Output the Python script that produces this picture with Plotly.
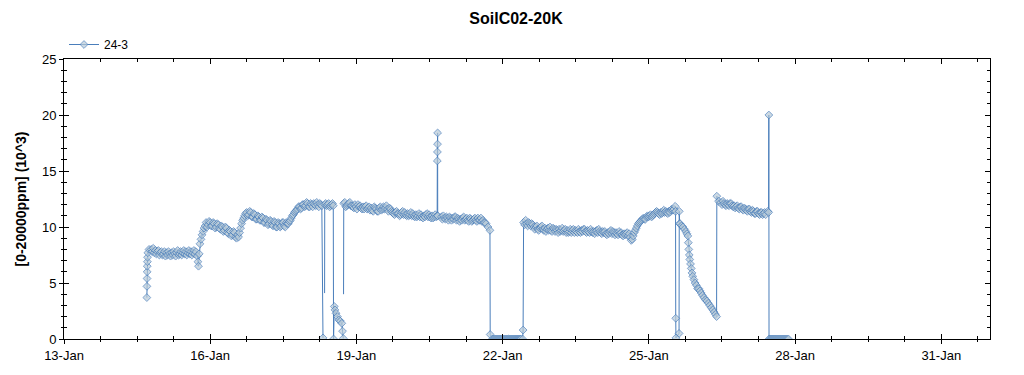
import datetime as dt
import plotly.graph_objects as go

# ---------------- text ----------------
title_text = "SoilC02-20K"
series_name = "24-3"
y_title = "[0-20000ppm] (10^3)"

# ---------------- data (day of January, value in 10^3 ppm) ----------------
STEP = 0.5 / 24.0   # regular logging interval of the plotted runs (days)

# start of record: fast rise
start_day = [14.700, 14.702, 14.704, 14.706, 14.708, 14.711, 14.714, 14.720, 14.745]
start_val = [3.7, 4.7, 5.4, 6.0, 6.5, 6.9, 7.3, 7.7, 8.0]

run1_start = 14.79
run1_val = [8.0, 7.8, 8.1, 7.7, 7.9, 7.6, 7.8, 7.9, 7.5, 7.7,
            7.8, 7.5, 7.6, 7.8, 7.4, 7.7, 7.5, 7.8, 7.6, 7.4,
            7.7, 7.5, 7.8, 7.6, 7.4, 7.7, 7.9, 7.5, 7.6, 7.8,
            7.5, 7.7, 7.9, 7.6, 7.8, 7.5, 7.7, 7.9, 7.6, 7.8,
            7.5, 7.7, 7.9, 7.6, 7.8]

dip1_day = [15.735, 15.748, 15.760, 15.775]
dip1_val = [7.4, 6.9, 6.5, 7.6]

run2_start = 15.79
run2_val = [8.5, 8.9, 9.3, 9.6, 9.9, 10.1, 10.4, 10.0, 10.2, 10.5,
            10.4, 10.1, 10.1, 10.4, 10.3, 9.9, 10.0, 10.3, 10.2, 9.9,
            9.8, 10.1, 10.0, 9.6, 9.7, 10.0, 9.9, 9.5, 9.4, 9.7,
            9.6, 9.2, 9.3, 9.6, 9.5, 9.1, 9.0, 9.3, 9.1, 9.5,
            9.9, 10.3, 10.6, 10.8, 11.0, 11.2, 11.3, 11.0, 11.1, 11.4,
            11.3, 10.9, 10.9, 11.2, 11.1, 10.7, 10.7, 11.0, 10.9, 10.6,
            10.6, 10.9, 10.8, 10.4, 10.4, 10.7, 10.6, 10.2, 10.3, 10.6,
            10.5, 10.2, 10.1, 10.5, 10.4, 10.0, 10.0, 10.4, 10.3, 10.0,
            10.1, 10.4, 10.4, 10.1, 10.0, 10.4, 10.3, 10.3, 10.5, 10.6,
            10.8, 11.0, 11.1, 11.3, 11.4, 11.5, 11.6, 11.8, 11.8, 11.6,
            11.7, 12.0, 12.0, 11.8, 11.9, 12.2, 12.1, 11.8, 11.8, 12.1,
            12.0, 11.8, 12.1, 12.0, 11.9, 12.2, 12.0, 11.8, 12.1, 12.0,
            11.9]

# dropouts on 18-Jan (None = no reading)
drop1_day = [18.314, 18.330, 18.347,
             18.350, 18.370, 18.390, 18.410, 18.430, 18.450, 18.470, 18.490,
             18.510, 18.525,
             18.531, 18.546, 18.560, 18.580, 18.610, 18.640, 18.670, 18.700,
             18.715, 18.730, 18.733, 18.736]
drop1_val = [0.1, None, 4.1,
             12.0, 12.1, 11.9, 12.0, 12.1, 11.8, 11.9, 12.0,
             12.1, 11.9,
             0.0, 2.9, 2.6, 2.3, 2.0, 1.7, 1.6, 1.4,
             0.7, 0.05, None, 4.0]
nomarker_day = [18.347, 18.736]

run3_start = 18.74
run3_val = [12.1, 12.2, 11.8, 11.9, 12.0, 12.1, 12.2, 11.9, 11.9, 11.8,
            11.7, 12.0, 11.8, 11.6, 12.0, 11.8, 11.9, 11.7, 11.6, 11.8,
            11.6, 11.8, 11.9, 11.6, 11.7, 11.8, 11.5, 11.7, 11.5, 11.4,
            11.8, 11.7, 11.6, 11.4, 11.4, 11.7, 11.8, 11.5, 11.6, 11.8,
            11.6, 11.7, 11.9, 11.6, 11.4, 11.7, 11.6, 11.4, 11.3, 11.2,
            11.1, 11.3, 11.4, 11.2, 11.2, 11.0, 11.1, 11.3, 11.4, 11.1,
            11.3, 11.1, 11.0, 11.2, 11.0, 11.1, 11.3, 11.0, 11.2, 11.0,
            10.9, 11.1, 10.9, 11.0, 11.2, 10.9, 11.1, 10.9, 10.8, 11.0,
            10.9, 11.1, 11.2, 10.9, 11.1, 10.9, 10.8, 11.0, 10.8, 10.9,
            11.1, 10.9, 11.0]

spike1_day = [20.660, 20.662, 20.664, 20.666, 20.668]
spike1_val = [15.9, 16.7, 17.4, 18.4, 11.0]

run4_start = 20.742
run4_val = [10.9, 10.7, 11.0, 10.8, 10.7, 10.9, 10.8, 10.6, 10.9, 10.8,
            10.6, 10.8, 10.7, 10.9, 10.9, 10.6, 10.8, 10.7, 10.5, 10.7,
            10.6, 10.8, 10.9, 10.6, 10.7, 10.8, 10.6, 10.5, 10.8, 10.7,
            10.5, 10.6, 10.7, 10.8, 10.6, 10.5, 10.8, 10.6, 10.6, 10.8,
            10.5, 10.6, 10.4, 10.4, 10.3]

fall1_day = [21.70, 21.74, 21.745]
fall1_val = [10.0, 9.7, 0.4]

zero1_start = 21.79
zero1_val = [0.0, 0.0, 0.0, 0.0, 0.0, 0.0, 0.0, 0.0, 0.0, 0.0,
             0.0, 0.0, 0.0, 0.0, 0.0, 0.0, 0.0, 0.0, 0.0, 0.0,
             0.0, 0.0, 0.0, 0.0, 0.0, 0.0, 0.0, 0.0, 0.0]

back1_day = [22.41, 22.42]
back1_val = [0.0, 0.8]

run5_start = 22.43
run5_val = [10.4, 10.2, 10.6, 10.3, 10.1, 10.4, 10.3, 10.1, 10.3, 10.2,
            10.0, 9.8, 10.0, 10.1, 9.8, 9.7, 9.9, 10.0, 10.1, 9.8,
            9.7, 9.9, 9.6, 9.8, 9.9, 9.7, 10.0, 9.7, 9.6, 9.9,
            9.8, 9.6, 9.8, 9.7, 9.5, 9.8, 9.6, 9.7, 9.9, 9.6,
            9.7, 9.8, 9.5, 9.7, 9.5, 9.6, 9.8, 9.5, 9.7, 9.8,
            9.5, 9.7, 9.6, 9.5, 9.8, 9.6, 9.5, 9.7, 9.6, 9.8,
            9.8, 9.6, 9.5, 9.7, 9.6, 9.5, 9.8, 9.6, 9.5, 9.6,
            9.4, 9.6, 9.7, 9.5, 9.8, 9.6, 9.5, 9.4, 9.6, 9.5,
            9.6, 9.4, 9.3, 9.5, 9.4, 9.6, 9.7, 9.4, 9.6, 9.5,
            9.3, 9.5, 9.4, 9.3, 9.6, 9.4, 9.5, 9.3, 9.2, 9.4,
            9.3, 9.4, 9.5, 9.2, 9.4, 9.1, 8.8, 8.9, 9.2, 9.5,
            9.7, 9.9, 10.1, 10.3, 10.4, 10.5, 10.6, 10.7, 10.8, 10.7,
            10.7, 10.9, 11.0, 10.9, 11.0, 11.1, 10.9, 11.0, 11.1, 11.2,
            11.3, 11.4, 11.3, 11.2, 11.1, 11.3, 11.2, 11.3, 11.5, 11.3,
            11.4, 11.3, 11.2, 11.4, 11.3, 11.5, 11.6, 11.5, 11.6]

drop2_day = [25.540, 25.548, 25.552, 25.556, 25.620, 25.624, 25.630]
drop2_val = [11.85, 11.4, 1.85, 0.1, 0.5, 11.4, 10.3]

fall2_day = [25.64, 25.67, 25.70, 25.73, 25.76, 25.78, 25.80, 25.81, 25.82, 25.83,
             25.84, 25.855, 25.87, 25.885, 25.90, 25.925, 25.95, 25.975, 26.00, 26.025,
             26.05, 26.075, 26.10, 26.13, 26.16, 26.19, 26.22, 26.25, 26.28, 26.31,
             26.34, 26.365, 26.39]
fall2_val = [10.3, 10.1, 10.0, 9.8, 9.6, 9.4, 9.2, 8.6, 8.0, 7.5,
             7.1, 6.7, 6.3, 5.9, 5.6, 5.3, 5.0, 4.8, 4.5, 4.5,
             4.3, 4.1, 3.9, 3.7, 3.5, 3.4, 3.2, 3.0, 2.8, 2.6,
             2.4, 2.2, 2.0]

jump_day = [26.395, 26.43]
jump_val = [12.75, 12.3]

run6_start = 26.48
run6_val = [12.2, 12.0, 12.3, 12.1, 12.0, 11.9, 12.1, 12.0, 11.9, 12.1,
            12.1, 11.9, 11.8, 11.9, 11.7, 11.8, 11.9, 11.7, 11.6, 11.8,
            11.8, 11.6, 11.5, 11.7, 11.6, 11.5, 11.4, 11.6, 11.6, 11.4,
            11.3, 11.5, 11.4, 11.2, 11.2, 11.4, 11.4, 11.2, 11.1, 11.3,
            11.3, 11.1, 11.2, 11.3, 11.1]

spike2_day = [27.44, 27.458, 27.462, 27.466]
spike2_val = [11.4, 11.3, 20.0, 0.0]

zero2_start = 27.49
zero2_val = [0.0, 0.0, 0.0, 0.0, 0.0, 0.0, 0.0, 0.0, 0.0, 0.0,
             0.0, 0.0, 0.0, 0.0, 0.0, 0.0, 0.0, 0.0, 0.0]


def run_days(start, vals):
    return [start + i * STEP for i in range(len(vals))]


pieces = [
    (start_day, start_val),
    (run_days(run1_start, run1_val), run1_val),
    (dip1_day, dip1_val),
    (run_days(run2_start, run2_val), run2_val),
    (drop1_day, drop1_val),
    (run_days(run3_start, run3_val), run3_val),
    (spike1_day, spike1_val),
    (run_days(run4_start, run4_val), run4_val),
    (fall1_day, fall1_val),
    (run_days(zero1_start, zero1_val), zero1_val),
    (back1_day, back1_val),
    (run_days(run5_start, run5_val), run5_val),
    (drop2_day, drop2_val),
    (fall2_day, fall2_val),
    (jump_day, jump_val),
    (run_days(run6_start, run6_val), run6_val),
    (spike2_day, spike2_val),
    (run_days(zero2_start, zero2_val), zero2_val),
]

days, vals = [], []
for d, v in pieces:
    assert len(d) == len(v), (len(d), len(v))
    days += list(d)
    vals += list(v)

base = dt.datetime(2024, 1, 1)
times = [base + dt.timedelta(days=d - 1) for d in days]
sizes = [0 if any(abs(d - n) < 1e-6 for n in nomarker_day) else 6 for d in days]

LINE = "#4A7EBB"
FILL = "#B7CAD8"
FONT = "Liberation Sans, Arial, sans-serif"

x_range = ["2024-01-13", "2024-02-01"]
DAY_MS = 86400000

fig = go.Figure()
fig.add_trace(go.Scatter(
    x=times, y=vals, name=series_name, mode="lines+markers",
    line=dict(color=LINE, width=1),
    marker=dict(symbol="diamond", size=sizes, color=FILL,
                line=dict(color=LINE, width=1)),
    connectgaps=False, cliponaxis=True,
))
# carrier for the inside-tick overlay axes (draws nothing)
fig.add_trace(go.Scatter(x=times, y=vals, mode="none", showlegend=False,
                         hoverinfo="skip", xaxis="x2", yaxis="y2"))

W, H = 1016, 367
fig.update_layout(
    width=W, height=H,
    margin=dict(l=53, r=34, t=51, b=36),
    paper_bgcolor="white", plot_bgcolor="white",
    font=dict(family=FONT, size=13, color="black"),
    title=dict(text="<b>" + title_text + "</b>", x=0.5, xanchor="center",
               y=1 - 10 / H, yanchor="middle", font=dict(size=16, family=FONT)),
    showlegend=True,
    legend=dict(x=0.0, y=1.0, xanchor="left", yanchor="bottom",
                font=dict(size=12, family=FONT), bgcolor="rgba(0,0,0,0)"),
    xaxis=dict(
        type="date", range=x_range, tick0="2024-01-13", dtick=3 * DAY_MS,
        tickformat="%-d-%b", showgrid=False, zeroline=False,
        showline=True, linecolor="black", linewidth=1, mirror=True,
        ticks="outside", ticklen=4, tickcolor="black",
        tickfont=dict(size=13),
        minor=dict(ticks="outside", ticklen=2, dtick=18 * 3600000,
                   tick0="2024-01-13", tickcolor="black", showgrid=False),
    ),
    yaxis=dict(
        range=[0, 25], dtick=5, showgrid=False, zeroline=False,
        showline=True, linecolor="black", linewidth=1, mirror=True,
        ticks="outside", ticklen=4, tickcolor="black",
        tickfont=dict(size=13),
        title=dict(text="<b>" + y_title + "</b>", font=dict(size=14), standoff=12),
        minor=dict(ticks="outside", ticklen=2, dtick=1, tickcolor="black",
                   showgrid=False),
    ),
    xaxis2=dict(
        type="date", range=x_range, overlaying="x", anchor="y2", side="bottom",
        tick0="2024-01-13", dtick=3 * DAY_MS, showticklabels=False,
        showgrid=False, zeroline=False, showline=True, linecolor="black",
        mirror="ticks", ticks="inside", ticklen=5, tickcolor="black",
        minor=dict(ticks="inside", ticklen=3, dtick=18 * 3600000,
                   tick0="2024-01-13", tickcolor="black", showgrid=False),
    ),
    yaxis2=dict(
        range=[0, 25], dtick=5, overlaying="y", anchor="x2", side="left",
        showticklabels=False, showgrid=False, zeroline=False,
        showline=True, linecolor="black", mirror="ticks",
        ticks="inside", ticklen=5, tickcolor="black",
        minor=dict(ticks="inside", ticklen=3, dtick=1, tickcolor="black",
                   showgrid=False),
    ),
)

fig.write_html("out.html")
